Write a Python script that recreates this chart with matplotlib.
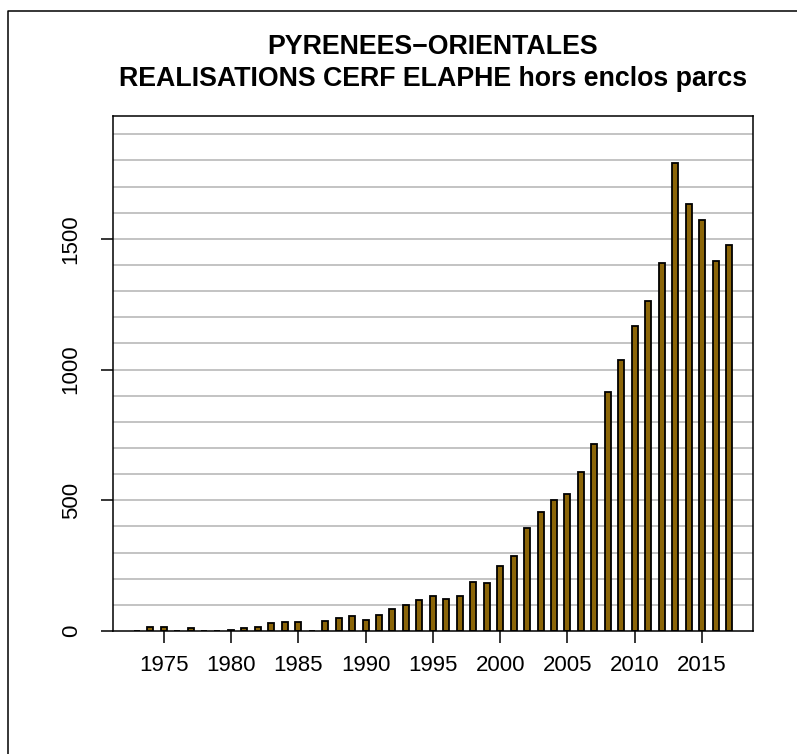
import numpy as np
import matplotlib
matplotlib.use("Agg")
import matplotlib.pyplot as plt

# Réalisations cerf élaphe, Pyrénées-Orientales
annees = list(range(1973, 2018))
realisations = [0, 15, 15, 0, 10, 0, 0, 4, 13, 16,
                32, 33, 36, 0, 37, 49, 56, 42, 62, 85,
                100, 120, 135, 124, 135, 187, 185, 247, 286, 394,
                454, 500, 523, 610, 716, 913, 1036, 1167, 1262, 1408,
                1791, 1633, 1571, 1415, 1476]
xticks = [1975, 1980, 1985, 1990, 1995, 2000, 2005, 2010, 2015]
yticks = [0, 500, 1000, 1500]
titre = "PYRENEES\u2212ORIENTALES\nREALISATIONS CERF ELAPHE hors enclos parcs"

plt.rcParams['font.family'] = ['Liberation Sans', 'DejaVu Sans']

W, H = 797, 754
fig = plt.figure(figsize=(W / 100, H / 100), dpi=100)

# cadre extérieur (seuls les bords gauche et haut sont visibles)
fig.add_artist(plt.Line2D([8 / W, 8 / W, 1.0], [0.0, 1 - 11 / H, 1 - 11 / H],
                          transform=fig.transFigure, color='black', lw=1.1))

left, right = 113 / W, 752.7 / W
bottom, top = 1 - 631 / H, 1 - 116 / H
ax = fig.add_axes([left, bottom, right - left, top - bottom])

ymax = 1.1 * max(realisations)
ax.set_xlim(1973 - 0.04 * 44, 2017 + 0.04 * 44)
ax.set_ylim(0, ymax)

# lignes horizontales toutes les 100
for g in np.arange(100, ymax, 100):
    ax.axhline(g, color='#BEBEBE', lw=1.3, zorder=1)

ax.bar(annees, realisations, width=0.45, color='#8B6508',
       edgecolor='black', linewidth=1.3, zorder=2)

ax.set_xticks(xticks)
ax.set_yticks(yticks)
ax.set_yticklabels([str(v) for v in yticks])
ax.tick_params(axis='both', length=8.5, width=1.1, labelsize=16, color='black')
ax.tick_params(axis='x', pad=9)
ax.tick_params(axis='y', pad=14)
for lab in ax.get_yticklabels():
    lab.set_rotation(90)
    lab.set_va('center')

for s in ax.spines.values():
    s.set_linewidth(1.1)

fig.text((left + right) / 2, 1 - 63.5 / H, titre, ha='center', va='center',
         fontsize=19.3, fontweight='bold', linespacing=1.3)

fig.savefig('out.png', dpi=100)
